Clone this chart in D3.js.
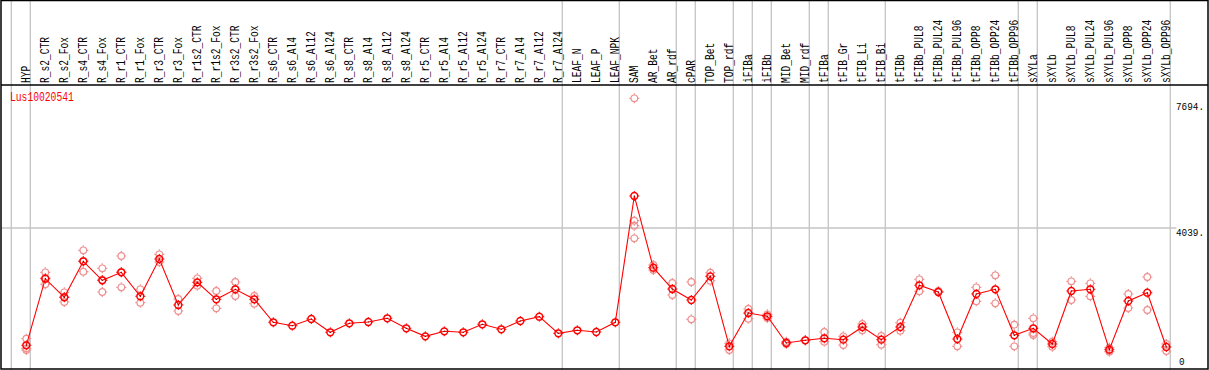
<!DOCTYPE html>
<meta charset="utf-8">
<title>Lus10020541</title>
<script src="https://d3js.org/d3.v7.min.js"></script>
<style>
  body { margin: 0; background: #fff; }
  text { font-family: "Liberation Mono", "DejaVu Sans Mono", monospace; font-size: 12px; }
  text.ytick { font-size: 10.5px; }
</style>
<body>
</body>
<script>
  width = 1209;
  height = 370;

  const geneName = "Lus10020541";

  const samples = ["HYP", "R_s2_CTR", "R_s2_Fox", "R_s4_CTR", "R_s4_Fox", "R_r1_CTR", "R_r1_Fox",
    "R_r3_CTR", "R_r3_Fox", "R_r1s2_CTR", "R_r1s2_Fox", "R_r3s2_CTR", "R_r3s2_Fox",
    "R_s6_CTR", "R_s6_Al4", "R_s6_Al12", "R_s6_Al24", "R_s8_CTR", "R_s8_Al4", "R_s8_Al12", "R_s8_Al24",
    "R_r5_CTR", "R_r5_Al4", "R_r5_Al12", "R_r5_Al24", "R_r7_CTR", "R_r7_Al4", "R_r7_Al12", "R_r7_Al24",
    "LEAF_N", "LEAF_P", "LEAF_NPK", "SAM", "AR_Bet", "AR_rdf", "cPAR", "TOP_Bet", "TOP_rdf",
    "iFIBa", "iFIBb", "MID_Bet", "MID_rdf", "tFIBa", "tFIB_Gr", "tFIB_Li", "tFIB_Bi", "tFIBb",
    "tFIBb_PUL8", "tFIBb_PUL24", "tFIBb_PUL96", "tFIBb_OPP8", "tFIBb_OPP24", "tFIBb_OPP96",
    "sXYLa", "sXYLb", "sXYLb_PUL8", "sXYLb_PUL24", "sXYLb_PUL96", "sXYLb_OPP8", "sXYLb_OPP24", "sXYLb_OPP96"];

  // mean expression per sample
  const means = [733, 2610, 2086, 3100, 2565, 2790, 2114, 3165, 1869, 2508, 2029, 2311, 2029,
    1381, 1285, 1474, 1099, 1353, 1389, 1494, 1212, 986, 1127, 1099, 1325, 1184, 1418, 1539, 1071,
    1156, 1108, 1381, 4941, 2920, 2319, 2009, 2677, 705, 1643, 1550, 798, 874, 930, 891, 1249, 891, 1249,
    2424, 2235, 910, 2179, 2311, 1015, 1212, 769, 2263, 2311, 609, 1981, 2215, 685];

  // replicate values per sample
  const reps = [
    [919, 648, 600], [2790, 2452, 2630], [2226, 1953, 2094], [3410, 2807, 3109], [2903, 2235, 2573],
    [3250, 2367, 2798], [2311, 1933], [3297, 3080], [2038, 1699], [2621, 2412], [2263, 1776],
    [2517, 2122], [2122, 1905],
    [], [], [], [], [], [], [], [], [], [], [], [], [], [], [], [], [], [], [],
    [7694, 4244, 4103, 3748], [2855, 2996], [2489, 2150], [2517, 1466], [2779, 2553], [789, 600],
    [1756, 1482], [1606, 1502], [834, 769], [874], [1108, 834], [986, 741], [1333, 1156], [995, 750],
    [1370, 1144], [2593, 2255], [2235, 2263], [1099, 705], [2367, 1973], [2706, 1916], [1313, 705],
    [1494, 1023, 1080], [834, 693], [2536, 2009], [2480, 2114], [665, 552], [2179, 1784], [2658, 1728],
    [769, 572]];

  // last sample of each group (a separator is drawn on its right)
  const groupEnds = ["HYP", "R_r7_Al24", "LEAF_NPK", "AR_rdf", "cPAR", "TOP_rdf", "iFIBa", "iFIBb",
    "MID_rdf", "tFIBa", "tFIB_Bi", "tFIBb_OPP96", "sXYLa", "sXYLb_OPP96"];

  const yTicks = [0, 4039, 7694];

  const svg = d3.select('body').append("svg").attr("width", width).attr("height", height);

  const x = d3.scaleBand().domain(samples).range([11.3, 11.3 + 19 * samples.length]);
  const px = d => x(d) + 15;
  const y = d3.scaleLinear().domain([0, 7694]).range([371.3, 98.3]);

  ////////////////////////////////////////////////////////////
  ///////////////////////// Grid /////////////////////////////
  ////////////////////////////////////////////////////////////

  const grid = svg.append("g").attr("stroke", "#c4c4c4").attr("stroke-width", 1.3);

  grid.append("line")
      .attr("x1", 1).attr("x2", x.range()[1] + 6)
      .attr("y1", y(4039)).attr("y2", y(4039));

  grid.selectAll("line.sep")
      .data([x.range()[0]].concat(groupEnds.map(d => x(d) + x.bandwidth())))
      .join("line")
      .attr("class", "sep")
      .attr("x1", d => d).attr("x2", d => d)
      .attr("y1", 0).attr("y2", height);

  ////////////////////////////////////////////////////////////
  //////////////////////// Frame /////////////////////////////
  ////////////////////////////////////////////////////////////

  svg.append("rect")
      .attr("x", 1).attr("y", 0.5).attr("width", 1207).attr("height", 368.5)
      .attr("fill", "none").attr("stroke", "#000").attr("stroke-width", 1.5);
  svg.append("line")
      .attr("x1", 1).attr("x2", 1208).attr("y1", 85).attr("y2", 85)
      .attr("stroke", "#000").attr("stroke-width", 1.5);

  ////////////////////////////////////////////////////////////
  //////////////////////// Labels ////////////////////////////
  ////////////////////////////////////////////////////////////

  svg.append("g")
      .selectAll("text")
      .data(samples)
      .join("text")
      .attr("transform", d => `translate(${Math.round(px(d) + 3) + 0.5},83) rotate(-90)`)
      .attr("textLength", d => d.length * 5.75)
      .attr("lengthAdjust", "spacingAndGlyphs")
      .text(d => d);

  svg.append("text")
      .attr("x", 10).attr("y", 101)
      .attr("fill", "#ff0000")
      .attr("textLength", geneName.length * 5.8)
      .attr("lengthAdjust", "spacingAndGlyphs")
      .text(geneName);

  svg.append("g")
      .selectAll("text")
      .data(yTicks)
      .join("text")
      .attr("class", "ytick")
      .attr("x", d => d === 0 ? 1179 : 1176)
      .attr("y", d => Math.min(Math.max(y(d) + 1, 103), 358))
      .attr("dominant-baseline", "hanging")
      .attr("textLength", d => (d === 0 ? 1 : 5) * 5.6)
      .attr("lengthAdjust", "spacingAndGlyphs")
      .text(d => d === 0 ? "0" : d + ".");

  ////////////////////////////////////////////////////////////
  //////////////////////// Marks /////////////////////////////
  ////////////////////////////////////////////////////////////

  const ticks = "M-5,0h1.5M3.5,0h1.5M0,-5v1.5M0,3.5v1.5";

  const repPts = samples.flatMap((s, i) => reps[i].map(v => ({s, v})));

  const rg = svg.append("g").attr("stroke", "#ef9090").attr("fill", "none").attr("stroke-width", 1.2);
  rg.selectAll("circle")
      .data(repPts)
      .join("circle")
      .attr("cx", d => px(d.s)).attr("cy", d => y(d.v)).attr("r", 3.3);
  rg.selectAll("path")
      .data(repPts)
      .join("path")
      .attr("transform", d => `translate(${px(d.s)},${y(d.v)})`)
      .attr("d", ticks);

  svg.append("path")
      .datum(means)
      .attr("fill", "none")
      .attr("stroke", "#ff0000")
      .attr("stroke-width", 1.1)
      .attr("d", d3.line().x((d, i) => px(samples[i])).y(d => y(d)));

  const mg = svg.append("g").attr("stroke", "#ff0000").attr("fill", "none").attr("stroke-width", 1.5);
  mg.selectAll("circle")
      .data(means)
      .join("circle")
      .attr("cx", (d, i) => px(samples[i])).attr("cy", d => y(d)).attr("r", 3.4);
  mg.selectAll("path")
      .data(means)
      .join("path")
      .attr("stroke-width", 1)
      .attr("transform", (d, i) => `translate(${px(samples[i])},${y(d)})`)
      .attr("d", ticks);
  mg.selectAll("rect")
      .data(means)
      .join("rect")
      .attr("stroke", "none").attr("fill", "#600")
      .attr("x", (d, i) => px(samples[i]) - 0.5).attr("y", d => y(d) - 0.5)
      .attr("width", 1).attr("height", 1);
</script>
